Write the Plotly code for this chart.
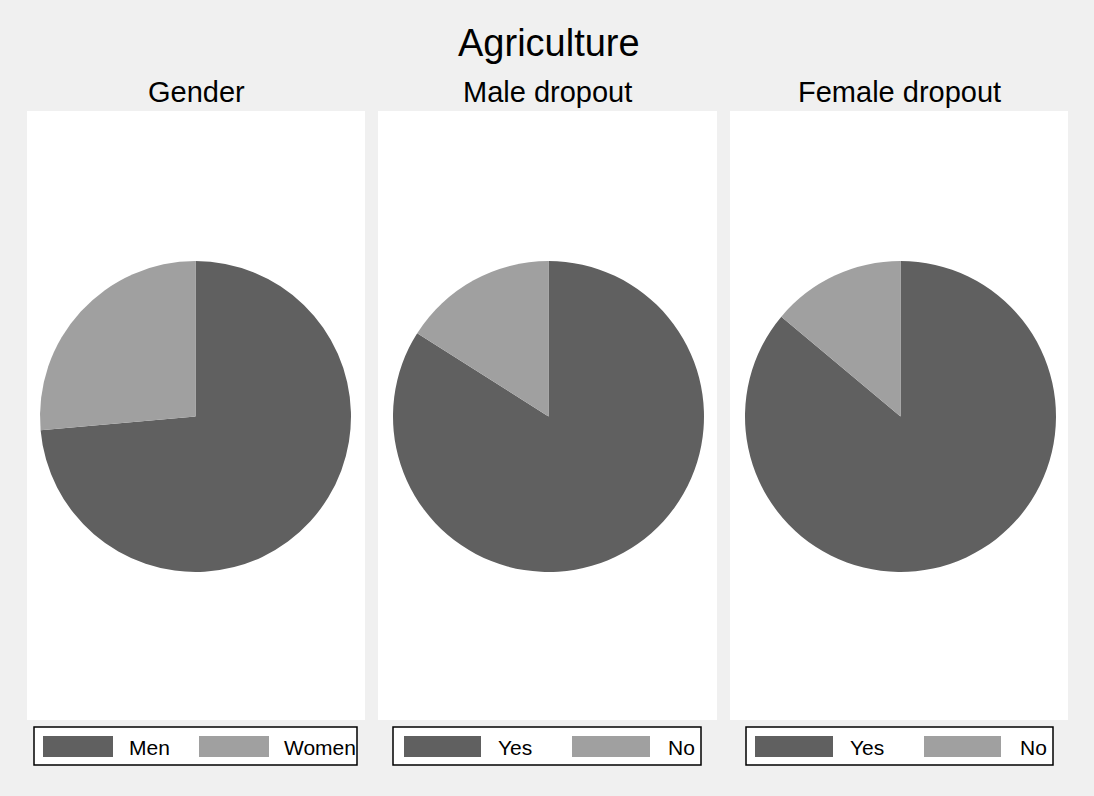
import plotly.graph_objects as go

W, H = 1094, 796

# data
main_title = "Agriculture"
panel_titles = ["Gender", "Male dropout", "Female dropout"]
gender_labels = ["Men", "Women"]
gender_values = [73.6, 26.4]
male_labels = ["Yes", "No"]
male_values = [84.0, 16.0]
female_labels = ["Yes", "No"]
female_values = [86.1, 13.9]
slice_colors = ["#606060", "#a0a0a0"]

panels_labels = [gender_labels, male_labels, female_labels]
panels_values = [gender_values, male_values, female_values]

# layout in pixels
panel_x = [(27, 365), (378, 717), (730, 1068)]
panel_y = (111, 720)
pie_cx = [195.5, 548.5, 900.5]
pie_cy = 416.5
pie_r = 155.5
# legend box x0, x1, then swatch1 x0,x1, text1 x, swatch2 x0,x1, text2 x
leg_geom = [
    (34, 357, 43, 113, 128, 199, 269, 283),
    (393, 701, 404, 481, 497, 572, 650, 667),
    (746, 1053, 755, 833, 849, 924, 1001, 1019),
]
leg_y = (727, 765)
sw_y = (736, 757)


def px(x):
    return x / W


def py(y):
    return 1 - y / H


fig = go.Figure()
shapes = []
annotations = []

for i in range(3):
    # white panel behind each pie
    x0, x1 = panel_x[i]
    shapes.append(dict(type="rect", xref="paper", yref="paper",
                       x0=px(x0), x1=px(x1), y0=py(panel_y[1]), y1=py(panel_y[0]),
                       fillcolor="white", line=dict(width=0), layer="below"))

    fig.add_trace(go.Pie(
        labels=panels_labels[i],
        values=panels_values[i],
        sort=False,
        direction="clockwise",
        rotation=0,
        marker=dict(colors=slice_colors, line=dict(width=0)),
        textinfo="none",
        hoverinfo="label+percent",
        showlegend=False,
        domain=dict(x=[px(pie_cx[i] - pie_r), px(pie_cx[i] + pie_r)],
                    y=[py(pie_cy + pie_r), py(pie_cy - pie_r)]),
    ))

    annotations.append(dict(text=panel_titles[i], xref="paper", yref="paper",
                            x=px((x0 + x1) / 2), y=py(92), xanchor="center", yanchor="middle",
                            showarrow=False, font=dict(size=29, color="black")))

    # legend box drawn by hand (wide swatches like the original)
    g = leg_geom[i]
    shapes.append(dict(type="rect", xref="paper", yref="paper",
                       x0=px(g[0]), x1=px(g[1]), y0=py(leg_y[1]), y1=py(leg_y[0]),
                       fillcolor="white", line=dict(color="black", width=1.5)))
    for k, (sx0, sx1, tx) in enumerate([(g[2], g[3], g[4]), (g[5], g[6], g[7])]):
        shapes.append(dict(type="rect", xref="paper", yref="paper",
                           x0=px(sx0), x1=px(sx1), y0=py(sw_y[1]), y1=py(sw_y[0]),
                           fillcolor=slice_colors[k], line=dict(width=0)))
        annotations.append(dict(text=panels_labels[i][k], xref="paper", yref="paper",
                                x=px(tx - 1), y=py(747), xanchor="left", yanchor="middle",
                                showarrow=False, font=dict(size=21, color="black")))

annotations.append(dict(text=main_title, xref="paper", yref="paper",
                        x=px(549), y=py(43), xanchor="center", yanchor="middle",
                        showarrow=False, font=dict(size=38, color="black")))

fig.update_layout(
    width=W, height=H,
    margin=dict(l=0, r=0, t=0, b=0),
    paper_bgcolor="#f0f0f0",
    plot_bgcolor="#f0f0f0",
    font=dict(family="Liberation Sans, Arial, sans-serif"),
    shapes=shapes,
    annotations=annotations,
)

# page body has a default margin; drop it so the figure fills the window
fig.write_html("out.html", config={"displayModeBar": False},
               post_script="document.body.style.margin='0';")
